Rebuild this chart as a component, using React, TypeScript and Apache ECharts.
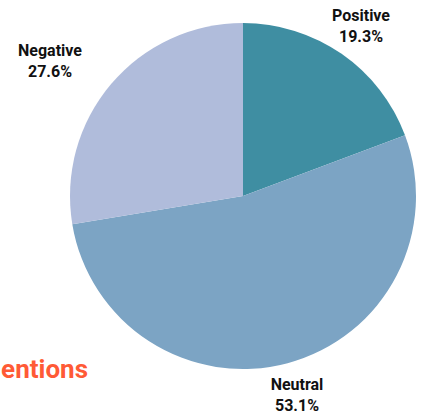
import React, { useEffect, useRef } from "react";
import * as echarts from "echarts";

const categories = ["Positive", "Neutral", "Negative"];
const values = [19.3, 53.1, 27.6];
const colors = ["#3f8ea2", "#7ca4c4", "#b0bcdb"];
const labelPos = [
  [361, 26],
  [297, 395],
  [50, 61],
];

export default function App() {
  const ref = useRef<HTMLDivElement>(null);
  useEffect(() => {
    document.body.style.margin = "0";
    const chart = echarts.init(ref.current!, undefined, { renderer: "svg" });
    chart.setOption({
      animation: false,
      backgroundColor: "#ffffff",
      graphic: [
        {
          type: "text",
          x: 88,
          y: 369,
          style: {
            text: "Mentions",
            fill: "#ff5a36",
            font: "bold 26px Roboto",
            align: "right",
            verticalAlign: "middle",
          },
        },
      ],
      series: [
        {
          type: "pie",
          center: [243, 196],
          radius: 173,
          startAngle: 90,
          clockwise: true,
          data: categories.map((c, i) => ({
            name: c,
            value: values[i],
            itemStyle: { color: colors[i] },
          })),
          label: {
            show: true,
            formatter: (p: any) => `${p.name}\n${p.value.toFixed(1)}%`,
            fontFamily: "Roboto",
            fontWeight: "bold",
            fontSize: 16,
            lineHeight: 21,
            color: "#111111",
            align: "center",
            overflow: "none",
            width: 120,
          },
          labelLine: { show: false },
          labelLayout: (p: any) => ({
            x: labelPos[p.dataIndex][0],
            y: labelPos[p.dataIndex][1],
            align: "center",
            verticalAlign: "middle",
          }),
          emphasis: { disabled: true },
        },
      ],
    });
    return () => chart.dispose();
  }, []);
  return <div ref={ref} style={{ width: 425, height: 417 }} />;
}
